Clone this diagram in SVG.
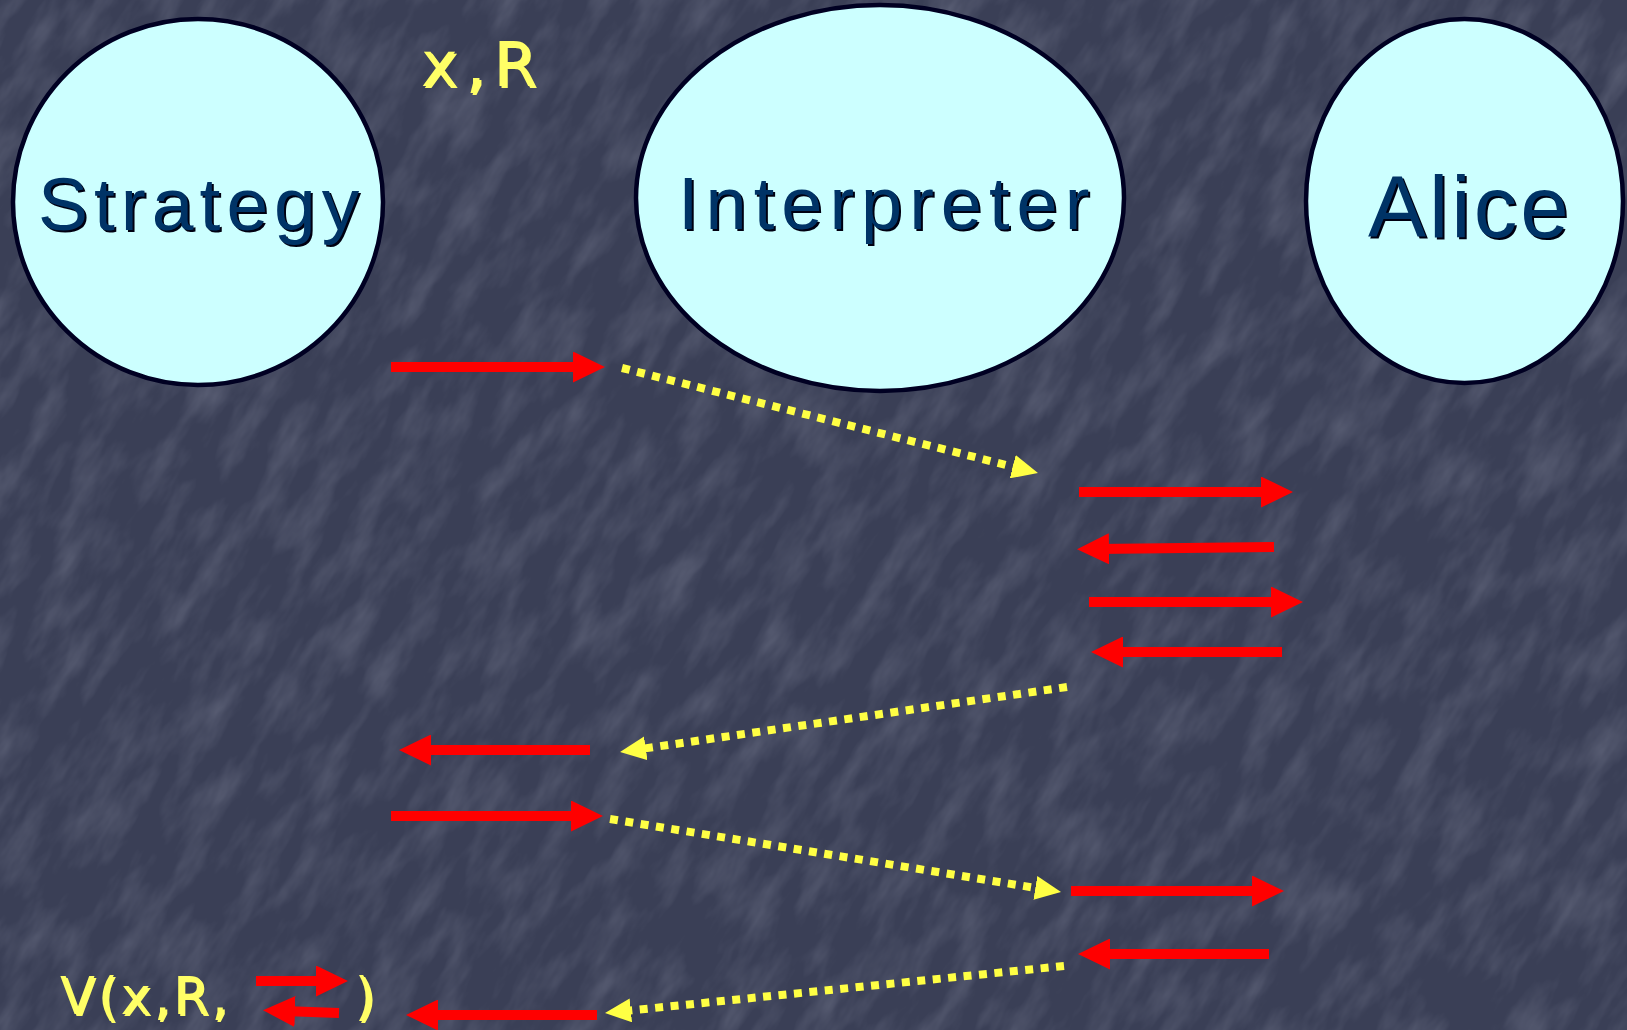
<svg xmlns="http://www.w3.org/2000/svg" width="1627" height="1030" viewBox="0 0 1627 1030">
<style>
.node{fill:#CCFFFF;stroke:#000022;stroke-width:4.5}
.lbl{font-family:"Liberation Sans",Arial,sans-serif;fill:#003366}
.sh{fill:#000011}
.yl{font-family:"DejaVu Sans",Verdana,sans-serif;fill:#FFFF66}
.red{stroke:#FF0000;stroke-width:10;fill:none;marker-end:url(#rh)}
.dot{stroke:#FFFF44;stroke-width:8;fill:none;stroke-dasharray:8 7.5;marker-end:url(#yh)}
</style>
<defs>
<marker id="rh" markerUnits="userSpaceOnUse" markerWidth="32" markerHeight="31" refX="12" refY="15.5" orient="auto" viewBox="0 0 32 31">
<path d="M0,0 L32,15.5 L0,31 z" fill="#FF0000"/>
</marker>
<marker id="yh" markerUnits="userSpaceOnUse" markerWidth="26" markerHeight="24" refX="12" refY="12" orient="auto" viewBox="0 0 26 24">
<path d="M0,0 L26,12 L0,24 z" fill="#FFFF44"/>
</marker>
<filter id="tex" x="0" y="0" width="1" height="1" filterUnits="objectBoundingBox">
<feTurbulence type="fractalNoise" baseFrequency="0.014 0.04" numOctaves="4" seed="7"/>
<feColorMatrix type="matrix" values="0 0 0 0 0.72  0 0 0 0 0.75  0 0 0 0 0.88  0 0 0 1.0 -0.4"/>
</filter>
</defs>
<rect width="1627" height="1030" fill="#3a3f56"/>
<g transform="rotate(-58 813 515)" opacity="0.32">
<rect x="-400" y="-600" width="2430" height="2230" filter="url(#tex)"/>
</g>

<g id="strategy">
<ellipse class="node" cx="198" cy="202" rx="185" ry="183"/>
<text class="lbl sh" x="40" y="232" font-size="75" letter-spacing="6">Strategy</text>
<text class="lbl" x="38" y="230" font-size="75" letter-spacing="6">Strategy</text>
</g>
<g id="interpreter">
<ellipse class="node" cx="880" cy="198" rx="244" ry="193"/>
<text class="lbl sh" x="680" y="231" font-size="74" letter-spacing="7">Interpreter</text>
<text class="lbl" x="678" y="229" font-size="74" letter-spacing="7">Interpreter</text>
</g>
<g id="alice">
<ellipse class="node" cx="1464.5" cy="201" rx="158.5" ry="182"/>
<text class="lbl sh" x="1370" y="239" font-size="87" letter-spacing="3">Alice</text>
<text class="lbl" x="1368" y="237" font-size="87" letter-spacing="3">Alice</text>
</g>

<g id="labels">
<text class="yl sh" x="423" y="88" font-size="62" letter-spacing="8">x,R</text>
<text class="yl" x="421" y="86" font-size="62" letter-spacing="8">x,R</text>
<text class="yl sh" x="62" y="1016" font-size="51" letter-spacing="3">V(x,R,</text>
<text class="yl" x="60" y="1014" font-size="51" letter-spacing="3">V(x,R,</text>
<text class="yl sh" x="357" y="1016" font-size="51">)</text>
<text class="yl" x="355" y="1014" font-size="51">)</text>
</g>

<g id="connectors">
<path class="red" d="M391,367 H585"/>
<path class="dot" d="M622,368 L1024.4,469.6"/>
<path class="red" d="M1079,492 H1273"/>
<path class="red" d="M1274,547 L1097,549"/>
<path class="red" d="M1089,602 H1283"/>
<path class="red" d="M1282,652 H1111"/>
<path class="dot" d="M1067,687 L633.9,750"/>
<path class="red" d="M590,750 H419"/>
<path class="red" d="M391,816 H583"/>
<path class="dot" d="M610,819 L1047.2,889.8"/>
<path class="red" d="M1071,891 H1264"/>
<path class="red" d="M1269,954 H1098"/>
<path class="dot" d="M1064,966 L618.9,1011.6"/>
<path class="red" d="M597,1015 H426"/>
<path class="red" d="M256,981 H328"/>
<path class="red" d="M339,1013 L283,1011"/>
</g>
</svg>
